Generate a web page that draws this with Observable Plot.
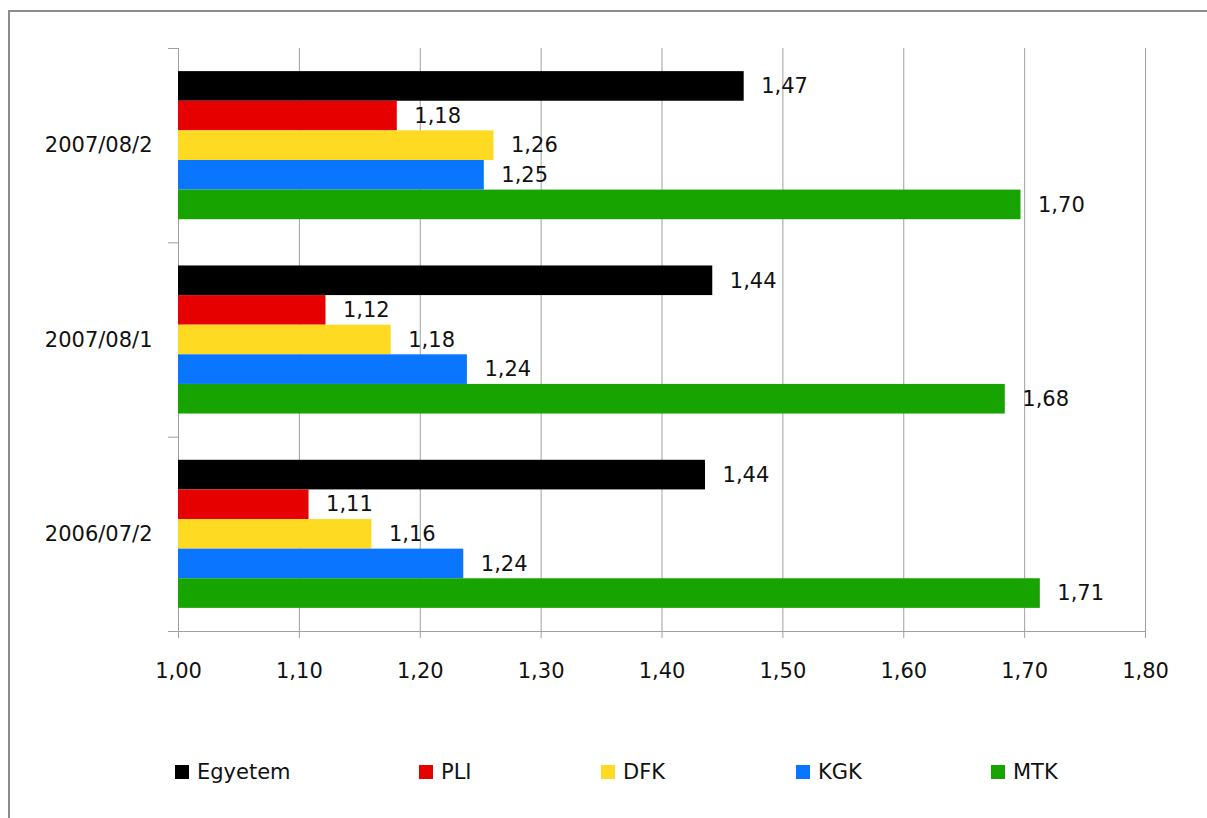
<!DOCTYPE html>
<html>
<head>
<meta charset="utf-8">
<script src="https://cdn.jsdelivr.net/npm/d3@7"></script>
<script src="https://cdn.jsdelivr.net/npm/@observablehq/plot@0.6"></script>
<style>
  html, body { margin: 0; padding: 0; background: #fff; }
  body { width: 1207px; height: 818px; position: relative; overflow: hidden; font-family: "DejaVu Sans", sans-serif; }
  #frame { position: absolute; left: 8px; top: 10px; width: 1400px; height: 1000px; border-left: 2px solid #8c8c8c; border-top: 2px solid #8c8c8c; }
  #chart { position: absolute; left: 0; top: 0; }
  .leg { position: absolute; top: 760px; display: flex; align-items: center; font-size: 21px; color: #111; }
  .leg .sw { width: 14px; height: 14px; margin-right: 8px; }
</style>
</head>
<body>
<div id="frame"></div>
<div id="chart"></div>
<div id="legend"></div>
<script>
// ---- data ----
const groups = ["2007/08/2", "2007/08/1", "2006/07/2"];
const series = ["Egyetem", "PLI", "DFK", "KGK", "MTK"];
const egyetem = [1.468, 1.442, 1.436];
const pli     = [1.181, 1.122, 1.108];
const dfk     = [1.261, 1.176, 1.160];
const kgk     = [1.253, 1.239, 1.236];
const mtk     = [1.697, 1.684, 1.713];
const xTicks  = [1.0, 1.1, 1.2, 1.3, 1.4, 1.5, 1.6, 1.7, 1.8];

const colors = ["#000000", "#e60000", "#ffda23", "#0a75ff", "#17a300"];
const valuesBySeries = [egyetem, pli, dfk, kgk, mtk];

// band layout inside each group (in group units)
const h = 0.1524;
const pad = (1 - series.length * h) / 2;
const nG = groups.length;

const rows = [];
groups.forEach((g, i) => {
  series.forEach((s, k) => {
    const top = (nG - i) - pad - k * h;
    rows.push({group: g, series: s, value: valuesBySeries[k][i], y1: top - h, y2: top, yc: top - h / 2});
  });
});

const fmt = v => v.toFixed(2).replace(".", ",");
const gray = "#a0a0a0";

const chart = Plot.plot({
  width: 1207,
  height: 700,
  marginLeft: 178,
  marginRight: 62,
  marginTop: 48,
  marginBottom: 69,
  style: {fontFamily: "DejaVu Sans, sans-serif", fontSize: "21px", color: "#111", background: "transparent"},
  x: {domain: [1.0, 1.8], label: null},
  y: {domain: [0, nG], label: null},
  color: {domain: series, range: colors},
  marks: [
    Plot.gridX({ticks: xTicks, stroke: gray, strokeOpacity: 1}),
    Plot.ruleY([0], {stroke: gray}),
    Plot.rectX(rows, {x1: 1.0, x2: "value", y1: "y1", y2: "y2", fill: "series"}),
    Plot.text(rows, {x: "value", y: "yc", text: d => fmt(d.value), dx: 17, textAnchor: "start", fill: "#111", fontSize: 21}),
    Plot.axisX({ticks: xTicks, tickFormat: fmt, tickSize: 7, tickPadding: 25, stroke: gray, fill: "#111", fontSize: 21, label: null}),
    Plot.axisY({ticks: d3.range(nG + 1), tickFormat: () => "", tickSize: 10, stroke: gray, label: null}),
    Plot.axisY({ticks: groups.map((g, i) => nG - i - 0.5), tickFormat: d => groups[nG - 1 - Math.floor(d)], tickSize: 0, tickPadding: 26, fill: "#111", fontSize: 21, label: null})
  ]
});
document.getElementById("chart").appendChild(chart);

// legend
const legLeft = [175, 419, 601, 796, 991];
const legend = document.getElementById("legend");
series.forEach((s, k) => {
  const item = document.createElement("div");
  item.className = "leg";
  item.style.left = legLeft[k] + "px";
  item.innerHTML = `<span class="sw" style="background:${colors[k]}"></span><span>${s}</span>`;
  legend.appendChild(item);
});
</script>
</body>
</html>
